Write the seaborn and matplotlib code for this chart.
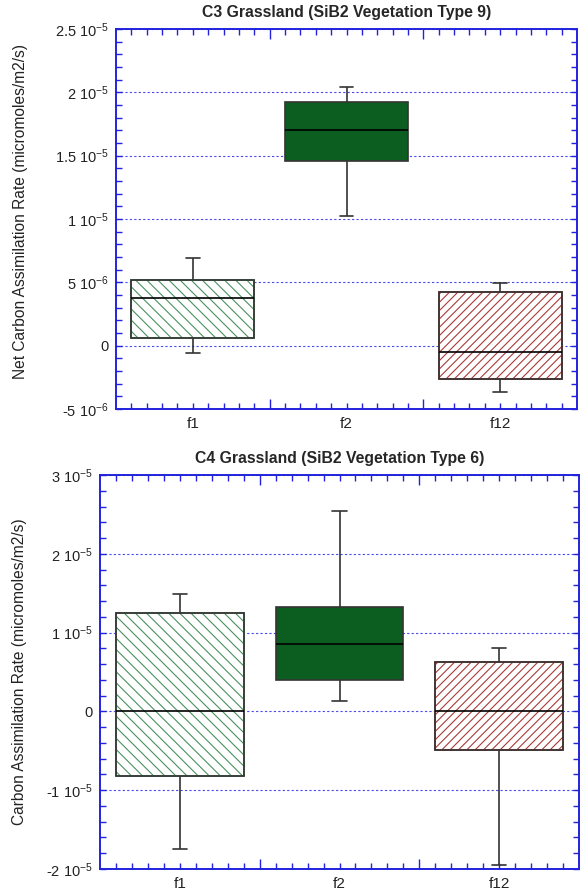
import numpy as np
import pandas as pd
import seaborn as sns
import matplotlib.pyplot as plt
from matplotlib.patches import PathPatch
from matplotlib.ticker import FixedLocator, MultipleLocator, FuncFormatter, NullFormatter

# five-number summaries: [min, q1, median, q3, max]
categories = ["f1", "f2", "f12"]
c3_f1 = [-0.58e-6, 0.6e-6, 3.75e-6, 5.2e-6, 6.95e-6]
c3_f2 = [1.02e-5, 1.458e-5, 1.70e-5, 1.92e-5, 2.045e-5]
c3_f12 = [-3.63e-6, -2.63e-6, -0.5e-6, 4.24e-6, 4.95e-6]
c4_f1 = [-1.745e-5, -0.815e-5, 0.0, 1.253e-5, 1.49e-5]
c4_f2 = [0.134e-5, 0.396e-5, 0.852e-5, 1.325e-5, 2.545e-5]
c4_f12 = [-1.95e-5, -0.49e-5, 0.0, 0.624e-5, 0.81e-5]

c3_ticks = [-5e-6, 0, 5e-6, 1e-5, 1.5e-5, 2e-5, 2.5e-5]
c3_labels = ["-5 10$^{-6}$", "0", "5 10$^{-6}$", "1 10$^{-5}$", "1.5 10$^{-5}$",
             "2 10$^{-5}$", "2.5 10$^{-5}$"]
c4_ticks = [-2e-5, -1e-5, 0, 1e-5, 2e-5, 3e-5]
c4_labels = ["-2 10$^{-5}$", "-1 10$^{-5}$", "0", "1 10$^{-5}$", "2 10$^{-5}$", "3 10$^{-5}$"]

sns.set_style("white")
plt.rcParams["font.family"] = ["Liberation Sans", "DejaVu Sans"]
plt.rcParams["mathtext.fontset"] = "custom"
plt.rcParams["mathtext.rm"] = "Liberation Sans"
plt.rcParams["mathtext.it"] = "Liberation Sans"
plt.rcParams["hatch.linewidth"] = 0.8

blue = "#2222dd"
edge = "#333333"
fills = {"f1": "white", "f2": "#0b5e1f", "f12": "white"}
hatches = {"f1": "\\\\\\", "f2": "", "f12": "////"}
hatch_colors = {"f1": "#4a9160", "f2": "#0b5e1f", "f12": "#a83a3a"}

fig = plt.figure(figsize=(5.85, 8.91), dpi=100)
ax1 = fig.add_axes([116 / 585, 1 - 409 / 891, 461 / 585, 380 / 891])
ax2 = fig.add_axes([100 / 585, 1 - 869 / 891, 479 / 585, 394 / 891])


def panel(ax, values, ylim, ticks, labels, minor, title, ylabel, label_x, label_y):
    df = pd.DataFrame({
        "forcing": np.repeat(categories, 5),
        "rate": np.concatenate(values),
    })
    sns.boxplot(data=df, x="forcing", y="rate", hue="forcing", palette=fills,
                order=categories, whis=(0, 100), width=0.8, linecolor=edge,
                linewidth=1.2, saturation=1, legend=False, ax=ax,
                medianprops={"color": "black", "linewidth": 1.2})
    for patch, cat in zip(list(ax.patches), categories):
        patch.set_zorder(2)
        if hatches[cat]:
            # hatch takes the edge colour; redraw the outline on top in grey
            patch.set_hatch(hatches[cat])
            patch.set_edgecolor(hatch_colors[cat])
            outline = PathPatch(patch.get_path(), transform=patch.get_transform(),
                                facecolor="none", edgecolor=edge, linewidth=1.2,
                                zorder=2.1)
            ax.add_patch(outline)
    # shorter whisker caps
    for line in ax.lines:
        x = line.get_xdata()
        y = line.get_ydata()
        if len(x) == 2 and y[0] == y[1] and 0 < abs(x[1] - x[0]) < 0.5:
            c = (x[0] + x[1]) / 2
            line.set_xdata([c - 0.045, c + 0.045])
        line.set_zorder(3)

    ax.set_xlim(-0.5, 2.5)
    ax.set_ylim(*ylim)
    ax.yaxis.set_major_locator(FixedLocator(ticks))
    ax.set_yticklabels(labels)
    ax.yaxis.set_minor_locator(MultipleLocator(minor))
    ax.xaxis.set_major_locator(FixedLocator([0.5, 1.5]))
    ax.xaxis.set_major_formatter(NullFormatter())
    ax.xaxis.set_minor_locator(FixedLocator(np.round(np.arange(-0.4, 2.45, 0.1), 2)))
    ax.xaxis.set_minor_formatter(FuncFormatter(
        lambda v, p: categories[int(round(v))] if abs(v - round(v)) < 1e-6 else ""))
    ax.tick_params(which="both", direction="in", top=True, right=True, bottom=True,
                   left=True, color=blue, width=1.0, labelcolor="#222222")
    ax.tick_params(axis="x", which="minor", length=4, pad=6, labelsize=11)
    ax.tick_params(axis="x", which="major", length=7)
    ax.tick_params(axis="y", which="both", length=4, pad=5, labelsize=10.5)
    ax.set_axisbelow(True)
    ax.grid(axis="y", which="major", color="#3535f0", linestyle=(0, (2.0, 2.0)),
            linewidth=0.8, alpha=0.9)
    for s in ax.spines.values():
        s.set_color(blue)
        s.set_linewidth(1.4)
    ax.set_xlabel("")
    ax.set_ylabel(ylabel, fontsize=11.2, color="#222222")
    ax.yaxis.label.set_va("center")
    ax.yaxis.set_label_coords(label_x, label_y)
    ax.set_title(title, fontsize=11.3, fontweight="bold", pad=9)


panel(ax1, [c3_f1, c3_f2, c3_f12], (-5e-6, 2.5e-5), c3_ticks, c3_labels, 1e-6,
      "C3 Grassland (SiB2 Vegetation Type 9)",
      "Net Carbon Assimilation Rate (micromoles/m2/s)", (21 - 116) / 461, 0.52)
panel(ax2, [c4_f1, c4_f2, c4_f12], (-2e-5, 3e-5), c4_ticks, c4_labels, 2e-6,
      "C4 Grassland (SiB2 Vegetation Type 6)",
      "Carbon Assimilation Rate (micromoles/m2/s)", (20 - 100) / 479, 0.5)

fig.savefig("out.png", dpi=100)
